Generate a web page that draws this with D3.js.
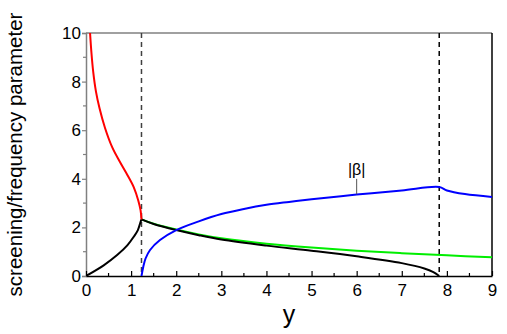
<!DOCTYPE html>
<html><head><meta charset="utf-8">
<script src="https://cdn.jsdelivr.net/npm/d3@7"></script>
<style>body{margin:0;background:#fff}svg{display:block}text{font-family:"Liberation Sans",Arial,sans-serif}</style>
</head><body><svg id="c" width="507" height="334"></svg>
<script>
const xTicks = [0,1,2,3,4,5,6,7,8,9];
const yTicks = [0,2,4,6,8,10];
const dashedX = [1.23, 7.83];
const redX = [0.09,0.12,0.16,0.22,0.3,0.42,0.58,0.75,0.92,1.06,1.16,1.21,1.23];
const redY = [10,9.2,8.4,7.6,6.9,6.1,5.3,4.7,4.15,3.65,3.1,2.7,2.33];
const blackLeftX = [0,0.4,0.69,0.92,1.06,1.15,1.21,1.23];
const blackLeftY = [0,0.45,0.86,1.27,1.62,1.89,2.23,2.33];
const greenX = [1.23,1.5,2.0,2.5,3.0,4.0,5.0,6.0,7.0,8.0,9.0];
const greenY = [2.33,2.15,1.91,1.71,1.55,1.33,1.17,1.04,0.94,0.85,0.77];
const blackRightX = [1.23,1.5,2.0,2.5,3.0,4.0,5.0,6.0,7.0,7.5,7.7,7.83];
const blackRightY = [2.33,2.14,1.89,1.68,1.50,1.25,1.04,0.81,0.53,0.31,0.16,0];
const blueX = [1.23,1.27,1.32,1.42,1.64,2.0,2.5,3.0,3.5,4.0,4.5,5.0,6.0,7.0,7.83,8.0,8.4,9.0];
const blueY = [0,0.38,0.72,1.07,1.48,1.89,2.25,2.55,2.76,2.93,3.05,3.16,3.35,3.52,3.66,3.52,3.37,3.25];
const betaLabel = {x:6.0, y:3.75, text:"|β|"};

const svg = d3.select("#c");
const L=86, R=492, T=33, B=276;
const x = d3.scaleLinear().domain([0,9]).range([L,R]);
const y = d3.scaleLinear().domain([0,10]).range([B,T]);

const xMinor = [0.5,1.5,2.5,3.5,4.5,5.5,6.5,7.5,8.5];
const yMinor = [1,3,5,7,9];
const FONT = "Liberation Sans, Arial, sans-serif";

svg.append("line").attr("x1",L).attr("x2",R).attr("y1",T).attr("y2",T).attr("stroke","#808080").attr("stroke-width",1.5);
svg.append("line").attr("x1",R).attr("x2",R).attr("y1",T).attr("y2",B).attr("stroke","#000").attr("stroke-width",1.5);

const yAx = svg.append("g").attr("transform",`translate(${L},0)`)
  .call(d3.axisLeft(y).tickValues(yTicks).tickSize(4).tickPadding(1).tickFormat(d3.format("d")));
yAx.select(".domain").attr("stroke","#808080").attr("stroke-width",1.5);
yAx.selectAll(".tick line").attr("stroke","#808080").attr("stroke-width",1.2);
yAx.selectAll("text").attr("font-size",17).attr("fill","#000").attr("font-family",FONT);
yAx.selectAll(".minor").data(yMinor).enter().append("line").attr("class","minor")
  .attr("x1",-3).attr("x2",0).attr("y1",d=>y(d)).attr("y2",d=>y(d)).attr("stroke","#808080").attr("stroke-width",1.2);

const xAx = svg.append("g").attr("transform",`translate(0,${B})`)
  .call(d3.axisBottom(x).tickValues(xTicks).tickSizeInner(-5).tickSizeOuter(0).tickPadding(5).tickFormat(d3.format("d")));
xAx.select(".domain").attr("stroke","#000").attr("stroke-width",1.5);
xAx.selectAll(".tick line").attr("stroke","#000").attr("stroke-width",1.2);
xAx.selectAll("text").attr("font-size",17).attr("fill","#000").attr("font-family",FONT).attr("y",20).attr("dy",0);
xAx.selectAll(".minor").data(xMinor).enter().append("line").attr("class","minor")
  .attr("x1",d=>x(d)).attr("x2",d=>x(d)).attr("y1",0).attr("y2",-3).attr("stroke","#000").attr("stroke-width",1.2);

svg.selectAll(".dash").data(dashedX).enter().append("line")
  .attr("x1",d=>x(d)).attr("x2",d=>x(d)).attr("y1",T).attr("y2",B)
  .attr("stroke",(d,i)=>i===0?"#404040":"#000").attr("stroke-width",1.5).attr("stroke-dasharray","5,4");

svg.append("clipPath").attr("id","cp").append("rect").attr("x",L).attr("y",T-2).attr("width",R-L).attr("height",B-T+2);
const line = d3.line().x(d=>x(d[0])).y(d=>y(d[1])).curve(d3.curveCatmullRom.alpha(0.5));
const series = [
  [greenX, greenY, "#00ee00"],
  [blackRightX, blackRightY, "#000"],
  [blackLeftX, blackLeftY, "#000"],
  [redX, redY, "#ff0000"],
  [blueX, blueY, "#0000ff"]
];
series.forEach(([xs,ys,c])=>{
  svg.append("path").datum(xs.map((v,i)=>[v,ys[i]])).attr("d",line)
    .attr("fill","none").attr("stroke",c).attr("stroke-width",2).attr("clip-path","url(#cp)");
});

svg.append("text").attr("x",x(betaLabel.x)).attr("y",y(betaLabel.y)-10).attr("text-anchor","middle")
  .attr("font-size",16).text(betaLabel.text);
svg.append("line").attr("x1",x(betaLabel.x)).attr("x2",x(betaLabel.x)).attr("y1",y(betaLabel.y)-6).attr("y2",y(3.36))
  .attr("stroke","#555").attr("stroke-width",1);

svg.append("text").attr("x",289).attr("y",323).attr("text-anchor","middle").attr("font-size",25).text("y");
svg.append("text").attr("transform",`translate(22,${(T+B)/2}) rotate(-90)`).attr("text-anchor","middle")
  .attr("font-size",20.5).text("screening/frequency parameter");
</script></body></html>
